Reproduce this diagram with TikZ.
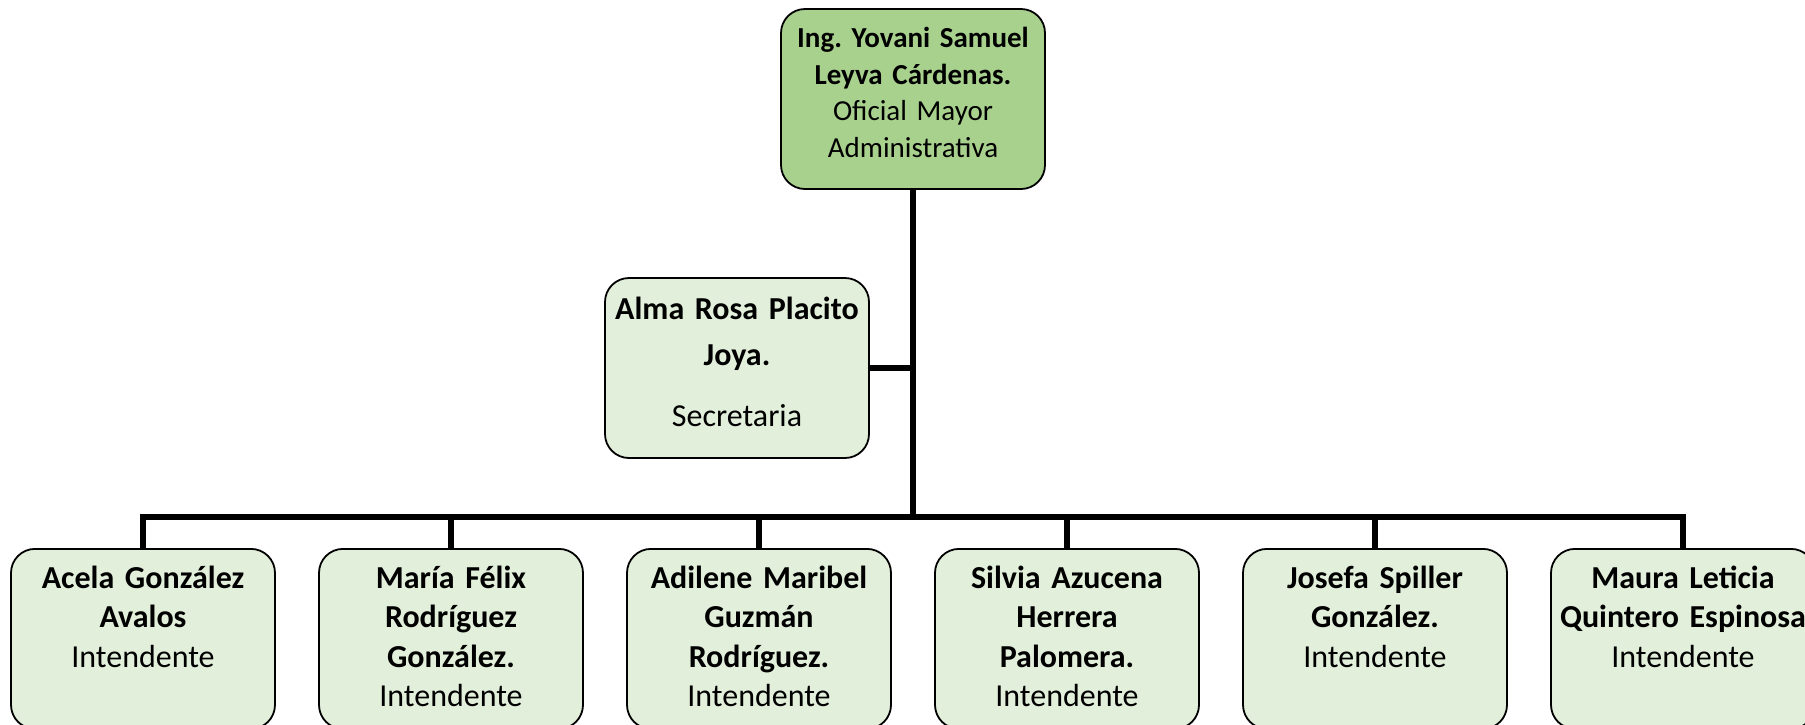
\documentclass[tikz,border=0pt]{standalone}
\usepackage{fontspec}
\setmainfont{Carlito}
\frenchspacing

\definecolor{jefeverde}{HTML}{A9D18E}
\definecolor{staffverde}{HTML}{E2EFDA}

\tikzset{
	caja/.style={draw=black, line width=0.9pt, rounded corners=12pt, fill=staffverde,
		minimum width=132pt, minimum height=90pt, text width=128pt, align=center, inner sep=2pt},
	intendente/.style={caja, anchor=north, font=\fontsize{16pt}{19.75pt}\selectfont,
		text height=17.7pt, text depth=68.3pt},
	linea/.style={line width=3pt, line join=miter},
}

\begin{document}
\begin{tikzpicture}[x=0.5pt,y=-0.5pt]
			\useasboundingbox (0,0) rectangle (1805,724);
			\clip (0,0) rectangle (1805,724);
			% jefe y secretaria
			\node[caja, fill=jefeverde, font=\fontsize{14.5pt}{18.25pt}\selectfont,
				text height=17.25pt, text depth=68.75pt] (jefe) at (913,99)
				{\textbf{Ing. Yovani Samuel}\\\textbf{Leyva Cárdenas.}\\Oficial Mayor\\Administrativa};
			\node[caja, font=\fontsize{16pt}{23pt}\selectfont,
				text height=18.6pt, text depth=67.4pt] (secre) at (737,368)
				{\textbf{Alma Rosa Placito}\\\textbf{Joya.}\\[7.5pt]Secretaria};
			% intendentes
			\node[intendente] (acela) at (143,548)
				{\textbf{Acela González}\\\textbf{Avalos}\\Intendente};
			\node[intendente] (maria) at (451,548)
				{\textbf{María Félix}\\\textbf{Rodríguez}\\\textbf{González.}\\Intendente};
			\node[intendente] (adilene) at (759,548)
				{\textbf{Adilene Maribel}\\\textbf{Guzmán}\\\textbf{Rodríguez.}\\Intendente};
			\node[intendente] (silvia) at (1067,548)
				{\textbf{Silvia Azucena}\\\textbf{Herrera}\\\textbf{Palomera.}\\Intendente};
			\node[intendente] (josefa) at (1375,548)
				{\textbf{Josefa Spiller}\\\textbf{González.}\\Intendente};
			\node[intendente] (maura) at (1683,548)
				{\textbf{Maura Leticia}\\\textbf{Quintero Espinosa}\\Intendente};
			% lineas
			\coordinate (bus) at (913,517);
			\draw[linea] (jefe.south) -- (bus);
			\draw[linea] (secre.east) -- (secre.east -| bus);
			\draw[linea] (bus) -| (acela.north);
			\draw[linea] (bus) -| (maria.north);
			\draw[linea] (bus) -| (adilene.north);
			\draw[linea] (bus) -| (silvia.north);
			\draw[linea] (bus) -| (josefa.north);
			\draw[linea] (bus) -| (maura.north);
		\end{tikzpicture}
\end{document}
